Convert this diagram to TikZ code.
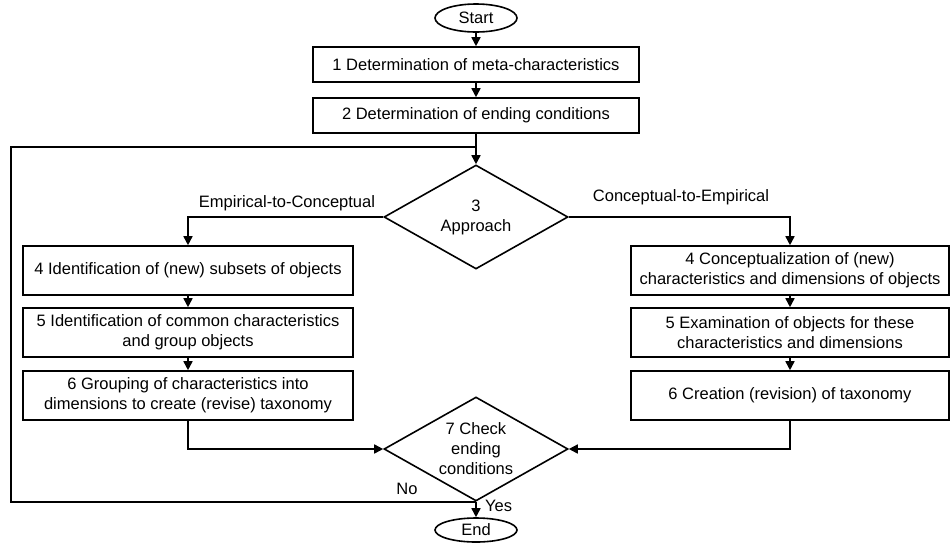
\documentclass[tikz,border=0pt]{standalone}
\usepackage{fontspec}
\setmainfont{Liberation Sans}
\usetikzlibrary{arrows.meta,shapes.geometric}
\begin{document}
\begin{tikzpicture}[x=1pt,y=-1pt,
  every node/.style={font=\fontsize{16.5}{20}\selectfont},
  line/.style={line width=1.6pt},
  flow/.style={line, -{Triangle[length=9pt,width=9pt]}},
  procbox/.style={draw,line width=1.6pt,align=center,inner sep=0pt},
  term/.style={draw,ellipse,line width=1.6pt,inner sep=0pt,minimum width=82pt},
  decide/.style={draw,diamond,line width=1.6pt,inner sep=0pt,align=center,
    aspect=1.77,minimum width=184pt,minimum height=104pt},
  lbl/.style={inner sep=0pt}]
\useasboundingbox (0,0) rectangle (951,542);

% main column
\node[term,minimum height=28pt] (start) at (476,18) {Start};
\node[procbox,minimum width=326pt,minimum height=35pt] (s1) at (476,64.5)
  {1 Determination of meta-characteristics};
\node[procbox,minimum width=326pt,minimum height=35pt] (s2) at (476,115.5)
  {2 Determination of ending conditions};
\node[decide] (d3) at (476,217) {3\\Approach};

% empirical-to-conceptual branch
\node[procbox,minimum width=330pt,minimum height=49pt] (l4) at (188,270.5)
  {4 Identification of (new) subsets of objects};
\node[procbox,minimum width=330pt,minimum height=49pt] (l5) at (188,332.5)
  {5 Identification of common characteristics\\and group objects};
\node[procbox,minimum width=330pt,minimum height=49pt] (l6) at (188,395.5)
  {6 Grouping of characteristics into\\dimensions to create (revise) taxonomy};

% conceptual-to-empirical branch
\node[procbox,minimum width=318pt,minimum height=49pt] (r4) at (790,270.5)
  {4 Conceptualization of (new)\\characteristics and dimensions of objects};
\node[procbox,minimum width=318pt,minimum height=49pt] (r5) at (790,332.5)
  {5 Examination of objects for these\\characteristics and dimensions};
\node[procbox,minimum width=318pt,minimum height=49pt] (r6) at (790,395.5)
  {6 Creation (revision) of taxonomy};

\node[decide] (d7) at (476,449) {7 Check\\ending\\conditions};
\node[term,minimum height=24pt] (end) at (476,530) {End};

% labels
\node[lbl] (e2c) at (287,203) {Empirical-to-Conceptual};
\node[lbl] (c2e) at (681,197) {Conceptual-to-Empirical};
\node[lbl] (no) at (407,489) {No};
\node[lbl,anchor=west] (yes) at (485,506) {Yes};

% connectors
\draw[flow] (start) -- (s1);
\draw[flow] (s1) -- (s2);
\draw[flow] (s2) -- (d3);
\draw[flow] (d3.west) -| (l4.north);
\draw[flow] (d3.east) -| (r4.north);
\draw[flow] (l4) -- (l5);
\draw[flow] (l5) -- (l6);
\draw[flow] (r4) -- (r5);
\draw[flow] (r5) -- (r6);
\draw[flow] (l6.south) |- (d7.west);
\draw[flow] (r6.south) |- (d7.east);
\draw[flow] (d7.south) -- (end);
\coordinate (back) at (11,147);
\draw[line] (d7.south) -| (back) -- (s2.south |- back);
\end{tikzpicture}
\end{document}
